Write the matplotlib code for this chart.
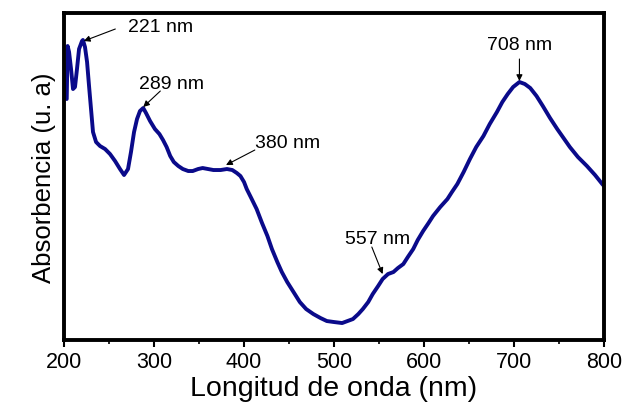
import matplotlib
matplotlib.use("Agg")
import matplotlib.pyplot as plt
from matplotlib.ticker import MultipleLocator

plt.rcParams['font.family'] = ['Liberation Sans', 'DejaVu Sans']

# Wavelength (nm) and absorbance (arbitrary units)
wavelength = [203, 204, 205.6, 207.8, 210, 212.2, 214.4, 216.7, 220, 221, 223.3, 225.6,
              227.8, 230, 232.2, 235.6, 240, 245.6, 251.1, 256.7, 262.2, 266.7, 271.1,
              274.4, 277.8, 281.1, 284.4, 288, 291.1, 295.6, 301, 306, 310, 314, 318,
              322, 327, 332, 338, 343, 349, 354, 360, 366, 374, 381, 387, 392, 396,
              400, 403, 408, 414, 420, 426, 431, 437, 442, 448, 455, 462, 469, 477,
              485, 492, 500, 509, 515, 521, 527, 532, 538, 543, 549, 554, 560, 566,
              571, 577, 582, 588, 593, 599, 605, 610, 618, 626, 631, 637, 644, 651,
              658, 666, 673, 681, 687, 693, 699, 706, 712, 718, 725, 732, 740, 748,
              755, 762, 771, 781, 790, 798, 800]
absorbance = [241, 294, 288, 271, 251, 253, 271, 291, 299, 300, 293, 278,
              254, 231, 208, 198, 194, 191, 186, 179, 171, 165, 171,
              188, 208, 221, 229, 232, 227, 219, 211, 206, 200, 193, 184,
              178, 174, 171, 169, 169, 171, 172, 171, 170, 170, 171, 170, 167, 164,
              158, 151, 142, 131, 117, 104, 91, 78, 68, 58, 48, 38, 31, 26,
              22, 19, 18, 17, 19, 21, 26, 31, 38, 46, 54, 61, 66, 68,
              72, 76, 83, 91, 100, 109, 117, 124, 133, 141, 148, 156, 168, 181,
              193, 204, 216, 228, 238, 246, 253, 258, 256, 252, 244, 234, 222, 211,
              202, 193, 183, 174, 165, 156, 154]

# Peak annotations: label, arrow head (nm, value), arrow tail, text anchor
peak_labels = ["221 nm", "289 nm", "380 nm", "557 nm", "708 nm"]
peak_heads = [(222, 299), (288, 233), (380, 175), (554, 66), (706, 259)]
peak_tails = [(257, 311), (307, 249), (412, 190), (542, 93), (706, 281)]
peak_text = [(271, 314), (283, 257), (412, 198), (512, 102), (706, 296)]
peak_ha = ["left", "left", "left", "left", "center"]

xticks = [200, 300, 400, 500, 600, 700, 800]

fig = plt.figure(figsize=(6.24, 4.06), dpi=100)
ax = fig.add_axes([0.1026, 0.160, 0.8654, 0.8055])

ax.plot(wavelength, absorbance, color='#0a0a8a', lw=2.8, solid_joinstyle='round',
        solid_capstyle='round')

for lab, head, tail, tpos, ha in zip(peak_labels, peak_heads, peak_tails, peak_text, peak_ha):
    ax.annotate('', xy=head, xytext=tail,
                arrowprops=dict(arrowstyle='-|>', color='black', lw=0.8,
                                mutation_scale=9, shrinkA=0, shrinkB=0))
    ax.text(tpos[0], tpos[1], lab, ha=ha, va='center', fontsize=14, color='black')

ax.set_xlim(200, 800)
ax.set_ylim(0, 327)
ax.set_xticks(xticks)
ax.set_xticklabels([str(t) for t in xticks])
ax.xaxis.set_minor_locator(MultipleLocator(50))
ax.set_yticks([])

ax.tick_params(axis='x', which='major', direction='out', length=5, width=1.5,
               labelsize=15.5, pad=3)
ax.tick_params(axis='x', which='minor', direction='out', length=3, width=1.2)

for s in ax.spines.values():
    s.set_linewidth(2.8)

ax.set_xlabel('Longitud de onda (nm)', fontsize=20.5, labelpad=2)
ax.set_ylabel('Absorbencia (u. a)', fontsize=18.5, labelpad=6)

fig.savefig('out.png', dpi=100)
